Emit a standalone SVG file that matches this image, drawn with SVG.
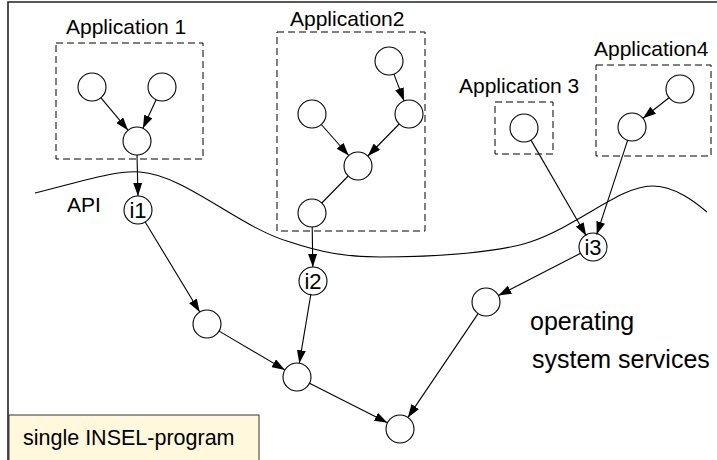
<svg xmlns="http://www.w3.org/2000/svg" width="717" height="460" viewBox="0 0 717 460">
<defs>
<marker id="ah" markerWidth="13" markerHeight="9" refX="13" refY="4.5" orient="auto" markerUnits="userSpaceOnUse">
<path d="M0,0 L13,4.5 L0,9 Z" fill="#000"/>
</marker>
<style>
.n{fill:#fff;stroke:#000;stroke-width:1.1}
.box{fill:none;stroke:#000;stroke-width:1;stroke-dasharray:7,4}
.t{font-family:"Liberation Sans",Arial,sans-serif;font-size:21px;fill:#000}
.big{font-size:25px}
.it{font-family:"Liberation Sans",Arial,sans-serif;font-size:22px;fill:#000;text-anchor:middle}
.e{stroke:#000;stroke-width:1.1;fill:none}
.a{marker-end:url(#ah)}
</style>
</defs>
<rect width="717" height="460" fill="#fff"/>
<path d="M8,460 V2 H717" fill="none" stroke="#222" stroke-width="1.6"/>

<g id="api-curve">
<path class="e" d="M35,193 C80,182 115,170 140,172 C185,175 240,228 290,242 C320,252 345,257 380,257 C440,257 500,252 530,242 C580,225 620,186 652,186 C675,186 695,202 707,212"/>
<text class="t" x="67" y="212">API</text>
</g>

<g id="app1">
<rect class="box" x="56" y="43" width="147" height="116"/>
<text class="t" x="66" y="34">Application 1</text>
<circle class="n" cx="92" cy="87" r="14"/>
<circle class="n" cx="162" cy="87" r="14"/>
<circle class="n" cx="137" cy="141" r="14"/>
</g>

<g id="app2">
<rect class="box" x="277" y="32" width="148" height="199"/>
<text class="t" x="290" y="26">Application2</text>
<circle class="n" cx="389" cy="61" r="14"/>
<circle class="n" cx="409" cy="114" r="14"/>
<circle class="n" cx="312" cy="114" r="14"/>
<circle class="n" cx="358" cy="166" r="14"/>
<circle class="n" cx="312" cy="213" r="14"/>
</g>

<g id="app3">
<rect class="box" x="495" y="102" width="58" height="52"/>
<text class="t" x="459" y="93">Application 3</text>
<circle class="n" cx="524" cy="128" r="14"/>
</g>

<g id="app4">
<rect class="box" x="596" y="65" width="115" height="91"/>
<text class="t" x="594" y="56">Application4</text>
<circle class="n" cx="680" cy="89" r="14"/>
<circle class="n" cx="632" cy="127" r="14"/>
</g>

<g id="i1">
<circle class="n" cx="138" cy="210" r="14"/>
<text class="it" x="138" y="218">i1</text>
</g>
<g id="i2">
<circle class="n" cx="313" cy="281" r="14"/>
<text class="it" x="313" y="289">i2</text>
</g>
<g id="i3">
<circle class="n" cx="593" cy="247" r="14"/>
<text class="it" x="593" y="255">i3</text>
</g>

<g id="os-nodes">
<circle class="n" cx="207" cy="324" r="14"/>
<circle class="n" cx="297" cy="377" r="14"/>
<circle class="n" cx="400" cy="429" r="14"/>
<circle class="n" cx="486" cy="302" r="14"/>
</g>

<g id="os-label">
<text class="t big" x="530" y="330">operating</text>
<text class="t big" x="532" y="368">system services</text>
</g>

<g id="legend">
<rect x="9" y="415" width="250" height="50" fill="#fff8dc" stroke="#333" stroke-width="1"/>
<text class="t" x="23" y="445" style="font-size:21.5px">single INSEL-program</text>
</g>

<g id="connectors">
<line class="e a" x1="101" y1="97.8" x2="128" y2="130.2"/>
<line class="e a" x1="156.1" y1="99.7" x2="142.9" y2="128.3"/>
<line class="e a" x1="137" y1="155" x2="138" y2="196"/>
<line class="e a" x1="145.2" y1="222" x2="199.7" y2="312"/>
<line class="e a" x1="393.9" y1="74.1" x2="404.1" y2="100.9"/>
<line class="e a" x1="399.2" y1="124" x2="367.8" y2="156"/>
<line class="e a" x1="321.3" y1="124.5" x2="348.7" y2="155.5"/>
<line class="e" x1="348.2" y1="176" x2="321.8" y2="203"/>
<line class="e a" x1="312.2" y1="227" x2="312.8" y2="267"/>
<line class="e a" x1="310.9" y1="293.8" x2="299.3" y2="363.2"/>
<line class="e a" x1="219.1" y1="331.1" x2="284.9" y2="369.9"/>
<line class="e a" x1="309.5" y1="383.3" x2="387.5" y2="422.7"/>
<line class="e a" x1="478.1" y1="313.6" x2="407.9" y2="417.4"/>
<line class="e a" x1="581.1" y1="253" x2="498.4" y2="295.6"/>
<line class="e a" x1="531" y1="140.1" x2="586.2" y2="235.7"/>
<line class="e a" x1="669" y1="97.7" x2="643" y2="118.3"/>
<line class="e a" x1="627.6" y1="140.3" x2="596.7" y2="234.6"/>
</g>
</svg>
